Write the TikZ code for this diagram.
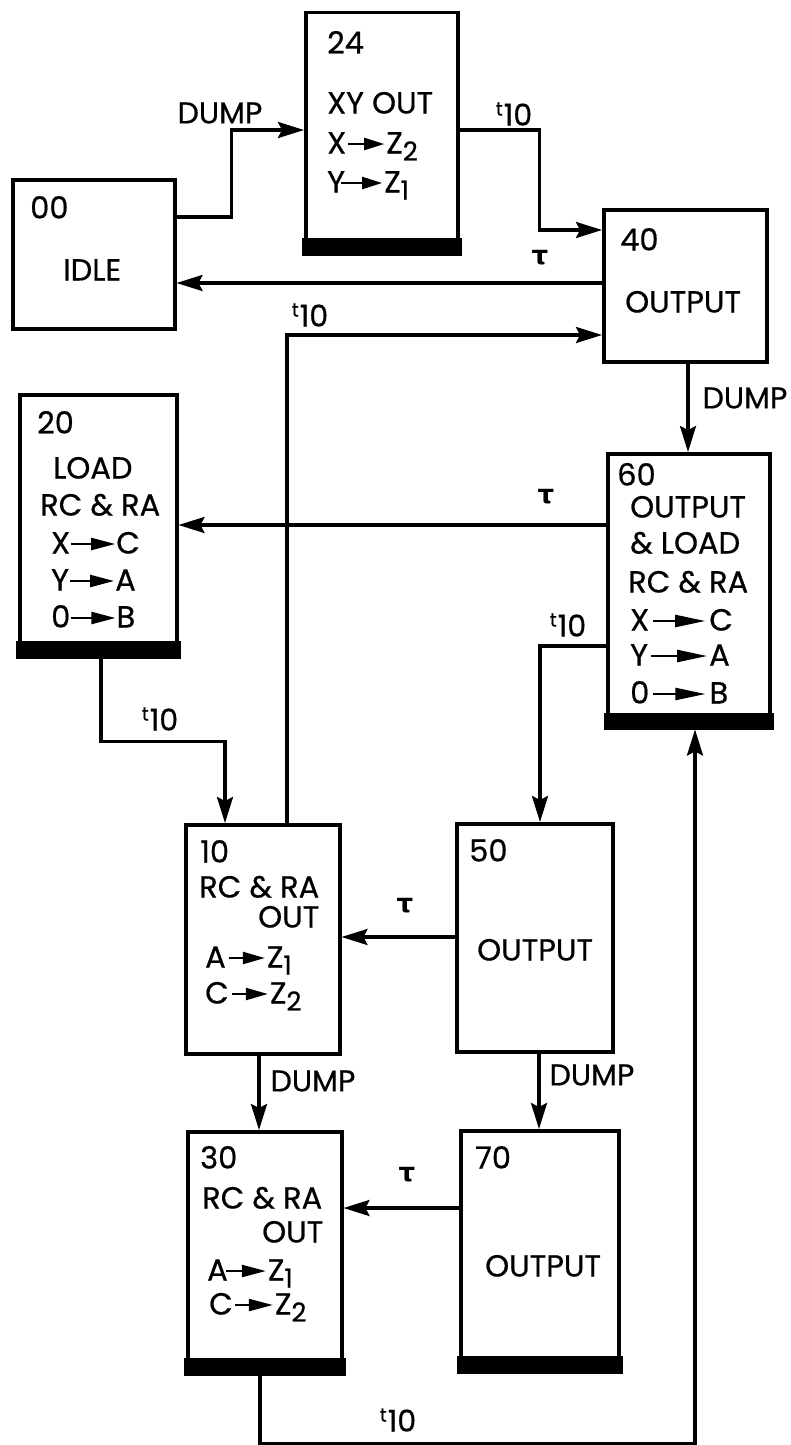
\documentclass[tikz,border=0pt]{standalone}
\usepackage{fontspec}
\setmainfont{Poppins}[FakeBold=0.6]
\newfontfamily\taufont{DejaVu Sans}
\usetikzlibrary{arrows.meta}
\newcommand\inarr[2]{\tikz[baseline=0pt]\draw[line width=2.2pt,-{Triangle[length=#2,width=12pt]}] (0pt,9.5pt) -- (#1,9.5pt);}
\newcommand\sbs[1]{\raisebox{-7pt}{\fontsize{26}{26}\selectfont #1}}
\newcommand\tten{{\fontsize{19}{19}\selectfont\raisebox{10pt}{t}}\kern1pt 10}
\newcommand\tauc{{\taufont\bfseries τ}}
\begin{document}
\begin{tikzpicture}[x=1pt,y=-1pt,
  box/.style={draw, line width=3.5pt, inner sep=0pt, anchor=north west},
  conn/.style={line width=3.2pt, -{Stealth[length=26pt,width=16pt,inset=4pt]}},
  txt/.style={inner sep=0pt, anchor=west, text height=21pt, text depth=0pt, font=\fontsize{30.5}{33}\selectfont},
  lbl/.style={inner sep=0pt, font=\fontsize{30}{33}\selectfont},
  taul/.style={inner sep=0pt, font=\fontsize{26}{29}\selectfont}]
\useasboundingbox (0,0) rectangle (791,1445);
\fill[white] (0,0) rectangle (791,1445);

% boxes
\node[box, minimum width=152pt, minimum height=241pt] (b24) at (304,11) {};
\node[box, minimum width=162pt, minimum height=149pt] (b00) at (11,178) {};
\node[box, minimum width=163pt, minimum height=152pt] (b40) at (602,208) {};
\node[box, minimum width=157pt, minimum height=262pt] (b20) at (18,393) {};
\node[box, minimum width=162pt, minimum height=274pt] (b60) at (606,452) {};
\node[box, minimum width=154pt, minimum height=229pt] (b10) at (184,823) {};
\node[box, minimum width=156pt, minimum height=228pt] (b50) at (455,822) {};
\node[box, minimum width=154pt, minimum height=242pt] (b30) at (186,1130) {};
\node[box, minimum width=158pt, minimum height=241pt] (b70) at (459,1129) {};

% black bars
\fill ([xshift=-2pt]b24.south west) rectangle ([xshift=2pt,yshift=18pt]b24.south east);
\fill ([xshift=-2pt]b20.south west) rectangle ([xshift=2pt,yshift=18pt]b20.south east);
\fill ([xshift=-2pt]b60.south west) rectangle ([xshift=2pt,yshift=17pt]b60.south east);
\fill ([xshift=-2pt]b30.south west) rectangle ([xshift=2pt,yshift=18pt]b30.south east);
\fill ([xshift=-2pt]b70.south west) rectangle ([xshift=2pt,yshift=18pt]b70.south east);

% box texts
\node[txt] (t24a) at (327,43) {24};
\node[txt] (t24b) at (327,103) {XY OUT};
\node[txt] (t24c) at (327,143) {X\kern1pt\inarr{36pt}{20pt}\kern1pt Z\sbs{2}};
\node[txt] (t24d) at (327,182) {Y\kern-5pt\inarr{41pt}{20pt}\kern1pt Z\sbs{1}};

\node[txt] (t00a) at (30,208) {00};
\node[txt] (t00b) at (63,270) {IDLE};

\node[txt] (t40a) at (620,240) {40};
\node[txt] (t40b) at (625,302) {OUTPUT};

\node[txt] (t20a) at (37,423) {20};
\node[txt] (t20b) at (53,468) {LOAD};
\node[txt] (t20c) at (40,505) {RC \& RA};
\node[txt] (t20d) at (51,543) {X\inarr{44pt}{24pt}C};
\node[txt] (t20e) at (51,580) {Y\inarr{44pt}{24pt}A};
\node[txt] (t20f) at (51,617) {0\inarr{44pt}{24pt}B};

\node[txt] (t60a) at (617,475) {60};
\node[txt] (t60b) at (630,507) {OUTPUT};
\node[txt] (t60c) at (630,543) {\& LOAD};
\node[txt] (t60d) at (628,582) {RC \& RA};
\node[txt] (t60e) at (630,620) {X\kern3pt\inarr{52pt}{30pt}\kern3pt C};
\node[txt] (t60f) at (630,655) {Y\kern2pt\inarr{56pt}{30pt}\kern1pt A};
\node[txt] (t60g) at (630,693) {0\kern3pt\inarr{52pt}{30pt}\kern3pt B};

\node[txt] (t10a) at (200,852) {10};
\node[txt] (t10b) at (199,887) {RC \& RA};
\node[txt] (t10c) at (258,917) {OUT};
\node[txt] (t10d) at (205,957) {A\kern2pt\inarr{36pt}{22pt}\kern1pt Z\sbs{1}};
\node[txt] (t10e) at (205,993) {C\kern2pt\inarr{36pt}{22pt}\kern1pt Z\sbs{2}};

\node[txt] (t50a) at (469,851) {50};
\node[txt] (t50b) at (477,950) {OUTPUT};

\node[txt] (t30a) at (200,1158) {30};
\node[txt] (t30b) at (202,1198) {RC \& RA};
\node[txt] (t30c) at (262,1232) {OUT};
\node[txt] (t30d) at (207,1270) {A\kern-3pt\inarr{40pt}{24pt}\kern1pt Z\sbs{1}};
\node[txt] (t30e) at (209,1304) {C\kern1pt\inarr{38pt}{24pt}\kern1pt Z\sbs{2}};

\node[txt] (t70a) at (475,1158) {70};
\node[txt] (t70b) at (485,1266) {OUTPUT};

% connectors
\draw[conn] ([yshift=-39pt]b00.north east) -- ++(55,0) |- ([yshift=-119pt]b24.north west);
\draw[conn] ([yshift=-119pt]b24.north east) -- ++(80,0) |- ([yshift=-22pt]b40.north west);
\draw[conn] ([yshift=-75pt]b40.north west) -- ([yshift=-105pt]b00.north east);
\draw[conn] ([xshift=103pt]b10.north west) |- ([yshift=-127pt]b40.north west);
\draw[conn] ([xshift=86pt]b40.south west) -- ([xshift=82pt]b60.north west);
\draw[conn] ([yshift=-73pt]b60.north west) -- ([yshift=-132pt]b20.north east);
\draw[conn] ([yshift=-194pt]b60.north west) -| ([xshift=85pt]b50.north west);
\draw[conn] ([xshift=83pt]b20.south west) -- ++(0,83) -| ([xshift=41pt]b10.north west);
\draw[conn] ([yshift=-115pt]b50.north west) -- ([yshift=-114pt]b10.north east);
\draw[conn] ([xshift=75pt]b10.south west) -- ([xshift=73pt]b30.north west);
\draw[conn] ([xshift=84pt]b50.south west) -- ([xshift=80pt]b70.north west);
\draw[conn] ([yshift=-79pt]b70.north west) -- ([yshift=-78pt]b30.north east);
\draw[conn] ([xshift=74pt]b30.south west) -- ++(0,68) -| ([xshift=89pt]b60.south west);

% connector labels
\node[lbl] (l1) at (220,113) {DUMP};
\node[lbl] (l2) at (514,114) {\tten};
\node[taul] (l3) at (540,258) {\tauc};
\node[lbl] (l4) at (310,315) {\tten};
\node[lbl] (l5) at (745,398) {DUMP};
\node[taul] (l6) at (546,497) {\tauc};
\node[lbl] (l7) at (568,625) {\tten};
\node[lbl] (l8) at (160,719) {\tten};
\node[taul] (l9) at (405,906) {\tauc};
\node[lbl] (l10) at (313,1081) {DUMP};
\node[lbl] (l11) at (592,1075) {DUMP};
\node[taul] (l12) at (407,1175) {\tauc};
\node[lbl] (l13) at (398,1420) {\tten};
\end{tikzpicture}
\end{document}
